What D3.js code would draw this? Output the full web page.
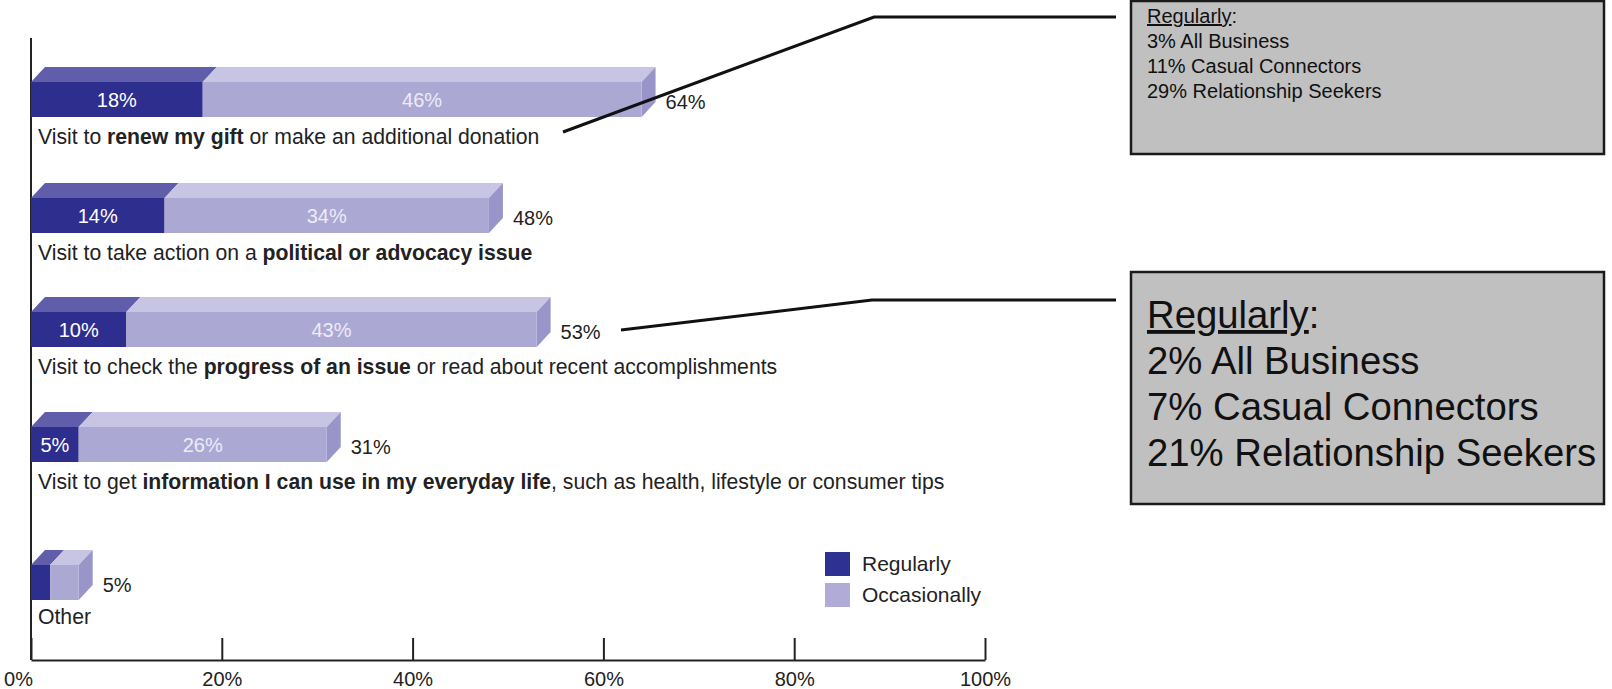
<!DOCTYPE html>
<html>
<head>
<meta charset="utf-8">
<script src="https://cdn.jsdelivr.net/npm/d3@7"></script>
<style>
  html, body { margin: 0; padding: 0; background: #fff; }
  svg { display: block; }
  text { font-family: "Liberation Sans", Arial, Helvetica, sans-serif; }
</style>
</head>
<body>
<svg id="chart" width="1612" height="689"></svg>
<script>
// ---------- DATA ----------
const categories = [
  "Visit to **renew my gift** or make an additional donation",
  "Visit to take action on a **political or advocacy issue**",
  "Visit to check the **progress of an issue** or read about recent accomplishments",
  "Visit to get **information I can use in my everyday life**, such as health, lifestyle or consumer tips",
  "Other"
];
const regularly    = [18, 14, 10, 5, 2];
const occasionally = [46, 34, 43, 26, 3];
const totals       = [64, 48, 53, 31, 5];
const showInner    = [true, true, true, true, false];
const tickValues   = [0, 20, 40, 60, 80, 100];
const seriesNames  = ["Regularly", "Occasionally"];
const callout1 = ["3% All Business", "11% Casual Connectors", "29% Relationship Seekers"];
const callout2 = ["2% All Business", "7% Casual Connectors", "21% Relationship Seekers"];

// ---------- STYLE ----------
const C = {
  regFront: "#2e2e8e", regTop: "#605daa",
  occFront: "#aca8d4", occTop: "#c8c5e4", side: "#9995c8",
  legReg: "#2e3192", legOcc: "#b0acd7",
  text: "#222222", inner: "#ececf6"
};
const depthX = 14, depthY = 15, barH = 35;

const svg = d3.select("#chart");
const x = d3.scaleLinear().domain([0, 100]).range([31, 985]);
// band positions for the five rows (last row sits a bit lower in the original)
const y = d3.scaleOrdinal().domain(d3.range(categories.length)).range([82, 198, 312, 427, 565]);
const baseY = 660;

// y axis line
svg.append("line").attr("x1", x(0)).attr("x2", x(0)).attr("y1", 38).attr("y2", baseY)
  .attr("stroke", "#222").attr("stroke-width", 2);

// x axis
const axis = d3.axisBottom(x).tickValues(tickValues).tickFormat(d => d + "%")
  .tickSizeInner(-22).tickSizeOuter(0).tickPadding(12);
const gx = svg.append("g").attr("transform", `translate(0,${baseY})`).call(axis);
gx.select(".domain").attr("stroke", "#222").attr("stroke-width", 2);
gx.selectAll(".tick line").attr("stroke", "#222").attr("stroke-width", 2);
gx.selectAll(".tick text").attr("fill", C.text).style("font-size", "20px")
  .style("font-family", '"Liberation Sans", Arial, sans-serif')
  .attr("dx", d => d === 0 ? -13 : 0);

// bars
const bars = svg.append("g");
categories.forEach((cat, i) => {
  const top = y(i), bot = top + barH;
  const x0 = x(0), x1 = x(regularly[i]), x2 = x(totals[i]);
  const g = bars.append("g");
  g.append("path").attr("fill", C.regTop)
    .attr("d", `M${x0},${top} L${x0 + depthX},${top - depthY} L${x1 + depthX},${top - depthY} L${x1},${top} Z`);
  g.append("path").attr("fill", C.occTop)
    .attr("d", `M${x1},${top} L${x1 + depthX},${top - depthY} L${x2 + depthX},${top - depthY} L${x2},${top} Z`);
  g.append("path").attr("fill", C.side)
    .attr("d", `M${x2},${top} L${x2 + depthX},${top - depthY} L${x2 + depthX},${bot - depthY} L${x2},${bot} Z`);
  g.append("rect").attr("x", x0).attr("y", top).attr("width", x1 - x0).attr("height", barH).attr("fill", C.regFront);
  g.append("rect").attr("x", x1).attr("y", top).attr("width", x2 - x1).attr("height", barH).attr("fill", C.occFront);

  if (showInner[i]) {
    g.append("text").attr("x", (x0 + x1) / 2).attr("y", top + barH / 2 + 7)
      .attr("text-anchor", "middle").attr("fill", "#ffffff").style("font-size", "20px")
      .text(regularly[i] + "%");
    g.append("text").attr("x", (x1 + x2) / 2).attr("y", top + barH / 2 + 7)
      .attr("text-anchor", "middle").attr("fill", C.inner).style("font-size", "20px")
      .text(occasionally[i] + "%");
  }
  g.append("text").attr("x", x2 + 24).attr("y", top + barH / 2 + 9)
    .attr("fill", C.text).style("font-size", "20px").text(totals[i] + "%");

  const lab = g.append("text").attr("x", 38).attr("y", bot + (i === categories.length - 1 ? 24 : 27))
    .attr("fill", C.text).style("font-size", "21.2px");
  cat.split("**").forEach((part, k) => {
    lab.append("tspan").attr("font-weight", k % 2 ? "bold" : "normal").text(part);
  });
});

// legend
const leg = svg.append("g");
seriesNames.forEach((s, k) => {
  leg.append("rect").attr("x", 825).attr("y", 552 + k * 31).attr("width", 25).attr("height", 24)
    .attr("fill", k ? C.legOcc : C.legReg);
  leg.append("text").attr("x", 862).attr("y", 571 + k * 31).attr("fill", C.text)
    .style("font-size", "21px").text(s);
});

// callout lines
svg.append("polyline").attr("points", "563,132 874,17 1116,17")
  .attr("fill", "none").attr("stroke", "#111").attr("stroke-width", 3);
svg.append("polyline").attr("points", "621,330 872,300 1116,300")
  .attr("fill", "none").attr("stroke", "#111").attr("stroke-width", 3);

// callout boxes
function callout(bx, by, bw, bh, fs, lh, firstBase, lines) {
  const g = svg.append("g");
  g.append("rect").attr("x", bx).attr("y", by).attr("width", bw).attr("height", bh)
    .attr("fill", "#c0c0c0").attr("stroke", "#1a1a1a").attr("stroke-width", 2.5);
  const t = g.append("text").attr("x", bx + 16).attr("y", firstBase).attr("fill", "#111")
    .style("font-size", fs + "px");
  t.append("tspan").attr("text-decoration", "underline").text("Regularly");
  t.append("tspan").text(":");
  lines.forEach((l, k) => {
    g.append("text").attr("x", bx + 16).attr("y", firstBase + lh * (k + 1)).attr("fill", "#111")
      .style("font-size", fs + "px").text(l);
  });
}
callout(1131, 1, 473, 153, 20, 25, 23, callout1);
callout(1131, 272, 473, 232, 38.3, 46, 328, callout2);
</script>
</body>
</html>
